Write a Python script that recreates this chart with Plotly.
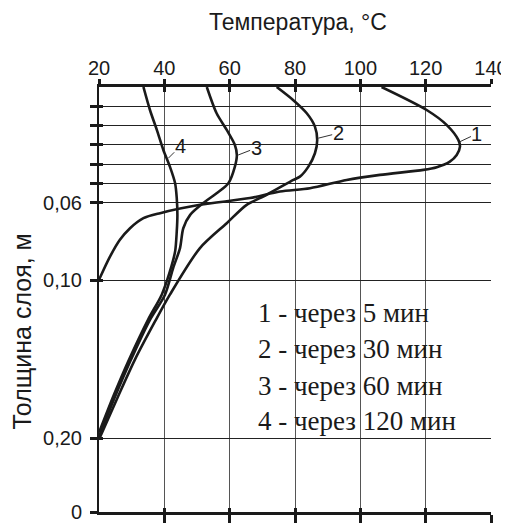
import plotly.graph_objects as go

# ---- data: temperature (°C) vs layer depth (axis units, m; depth grows downward)
curve_labels = ["1", "2", "3", "4"]
legend_lines = ["1 - через 5 мин", "2 - через 30 мин", "3 - через 60 мин", "4 - через 120 мин"]

t1 = [106.5, 120.3, 126.4, 130.0, 130.5, 129.5, 127.4, 123.4, 119.3, 106.0, 95.8, 84.6, 75.4, 66.2, 50.9, 38.7, 33.6, 29.5, 26.4, 23.4, 20.0]
d1 = [0.0, 0.0119, 0.0196, 0.0274, 0.0309, 0.0352, 0.0386, 0.0415, 0.0429, 0.0455, 0.0481, 0.0524, 0.0541, 0.0575, 0.0610, 0.0653, 0.0679, 0.0731, 0.0791, 0.0877, 0.0998]

t2 = [74.4, 79.4, 83.6, 86.1, 86.8, 86.1, 84.1, 81.5, 79.5, 71.3, 65.2, 59.1, 50.9, 41.7, 37.1, 31.0, 25.8, 20.0]
d2 = [0.0, 0.0067, 0.0136, 0.0205, 0.0274, 0.0343, 0.0412, 0.0464, 0.0481, 0.0558, 0.0610, 0.0705, 0.0834, 0.1075, 0.1215, 0.1411, 0.1603, 0.1825]

t3 = [53.0, 56.0, 59.1, 61.6, 62.2, 61.6, 59.6, 56.0, 51.9, 47.9, 45.8, 44.8, 42.7, 40.2, 35.6, 29.5, 24.9, 20.0]
d3 = [0.0, 0.0136, 0.0222, 0.0300, 0.0352, 0.0412, 0.0498, 0.0550, 0.0601, 0.0662, 0.0731, 0.0834, 0.0937, 0.1075, 0.1205, 0.1422, 0.1603, 0.1810]

t4 = [33.6, 35.6, 37.7, 39.7, 41.7, 43.3, 43.8, 44.0, 43.8, 43.3, 41.7, 39.2, 35.0, 28.9, 24.6, 20.0]
d4 = [0.0, 0.0119, 0.0222, 0.0326, 0.0412, 0.0498, 0.0575, 0.0662, 0.0748, 0.0851, 0.0955, 0.1075, 0.1205, 0.1422, 0.1592, 0.1789]

# label anchor points on each curve (temperature, depth)
label_t = [130.5, 87.1, 62.6, 41.2]
label_d = [0.0283, 0.0265, 0.0352, 0.0369]

x_ticks = [20, 40, 60, 80, 100, 120, 140]
x_ticktext = ["20", "40", "60", "80", "100", "120", "140"]
y_ticks = [0.01, 0.02, 0.03, 0.04, 0.05, 0.06, 0.10, 0.1817, 0.22]
y_ticktext = ["", "", "", "", "", "0,06", "0,10", "0,20", "0"]

SANS = "Liberation Sans, Arial, sans-serif"
SERIF = "Liberation Serif, Times New Roman, serif"
INK = "#1a1a1a"

fig = go.Figure()
for t, d in [(t1, d1), (t2, d2), (t3, d3), (t4, d4)]:
    fig.add_trace(go.Scatter(x=t, y=d, mode="lines", line=dict(color=INK, width=2.6, shape="spline", smoothing=0.8),
                             showlegend=False, hoverinfo="skip"))
# empty traces to bring up the overlay axes (tick marks crossing the frame)
for xa, ya in [("x2", "y"), ("x3", "y"), ("x4", "y"), ("x", "y2")]:
    fig.add_trace(go.Scatter(x=[], y=[], xaxis=xa, yaxis=ya, showlegend=False, hoverinfo="skip"))

# curve number labels with short leader lines
offsets = [(17, -8), (20, -5), (18, -7), (12, -12)]
for lab, tx, dy, (ax, ay) in zip(curve_labels, label_t, label_d, offsets):
    fig.add_annotation(x=tx, y=dy, xref="x", yref="y", text=lab, showarrow=True, arrowhead=0,
                       arrowwidth=1, arrowcolor="#333", ax=ax, ay=ay, standoff=0,
                       font=dict(family=SANS, size=20, color=INK), borderpad=0)

# legend text block
legend_y = [0.4682, 0.3835, 0.2965, 0.2141]
for txt, yy in zip(legend_lines, legend_y):
    fig.add_annotation(x=0.40, y=yy, xref="paper", yref="paper", text=txt, showarrow=False,
                       xanchor="left", yanchor="middle", font=dict(family=SERIF, size=27, color=INK))

# axis titles
fig.add_annotation(x=0.507, y=1.153, xref="paper", yref="paper", text="Температура, °C", showarrow=False,
                   xanchor="center", yanchor="middle", font=dict(family=SANS, size=23, color=INK))
fig.add_annotation(x=-0.196, y=0.425, xref="paper", yref="paper", text="Толщина слоя, м", showarrow=False,
                   textangle=-90, xanchor="center", yanchor="middle", font=dict(family=SANS, size=25, color=INK))

common_x = dict(range=[20, 140], fixedrange=True, automargin=False)
fig.update_layout(
    width=501, height=518,
    margin=dict(l=91, r=18, t=79, b=14),
    paper_bgcolor="white", plot_bgcolor="white",
    xaxis=dict(**common_x, side="top", anchor="y", tickvals=x_ticks, ticktext=x_ticktext,
               ticks="outside", ticklen=5, tickwidth=2.5, tickcolor=INK,
               showline=True, linewidth=3, linecolor=INK,
               showgrid=True, gridcolor="#555", gridwidth=1, zeroline=False,
               tickfont=dict(family=SANS, size=20, color=INK), ticklabelstandoff=-4),
    xaxis2=dict(**common_x, overlaying="x", matches="x", side="top", anchor="y", tickvals=x_ticks[1:],
                ticks="inside", ticklen=5, tickwidth=2.5, tickcolor=INK,
                showticklabels=False, showgrid=False, showline=False, zeroline=False),
    xaxis3=dict(**common_x, overlaying="x", matches="x", side="bottom", anchor="y", tickvals=x_ticks[1:],
                ticks="outside", ticklen=8, tickwidth=2.5, tickcolor=INK,
                showticklabels=False, showgrid=False, showline=True, linewidth=3, linecolor=INK, zeroline=False),
    xaxis4=dict(**common_x, overlaying="x", matches="x", side="bottom", anchor="y", tickvals=x_ticks[1:],
                ticks="inside", ticklen=4, tickwidth=2.5, tickcolor=INK,
                showticklabels=False, showgrid=False, showline=False, zeroline=False),
    yaxis=dict(range=[0.22, 0], fixedrange=True, automargin=False, side="left", anchor="x",
               tickvals=y_ticks, ticktext=y_ticktext,
               ticks="outside", ticklen=7, tickwidth=2.5, tickcolor=INK,
               showline=True, linewidth=2, linecolor=INK,
               showgrid=True, gridcolor="#222", gridwidth=1, zeroline=False,
               tickfont=dict(family=SANS, size=20, color=INK), ticklabelstandoff=4),
    yaxis2=dict(range=[0.22, 0], fixedrange=True, automargin=False, overlaying="y", matches="y", side="left",
                anchor="x", tickvals=y_ticks[:-1], ticks="inside", ticklen=4, tickwidth=2.5, tickcolor=INK,
                showticklabels=False, showgrid=False, showline=False, zeroline=False),
)

fig.write_html("out.html")
